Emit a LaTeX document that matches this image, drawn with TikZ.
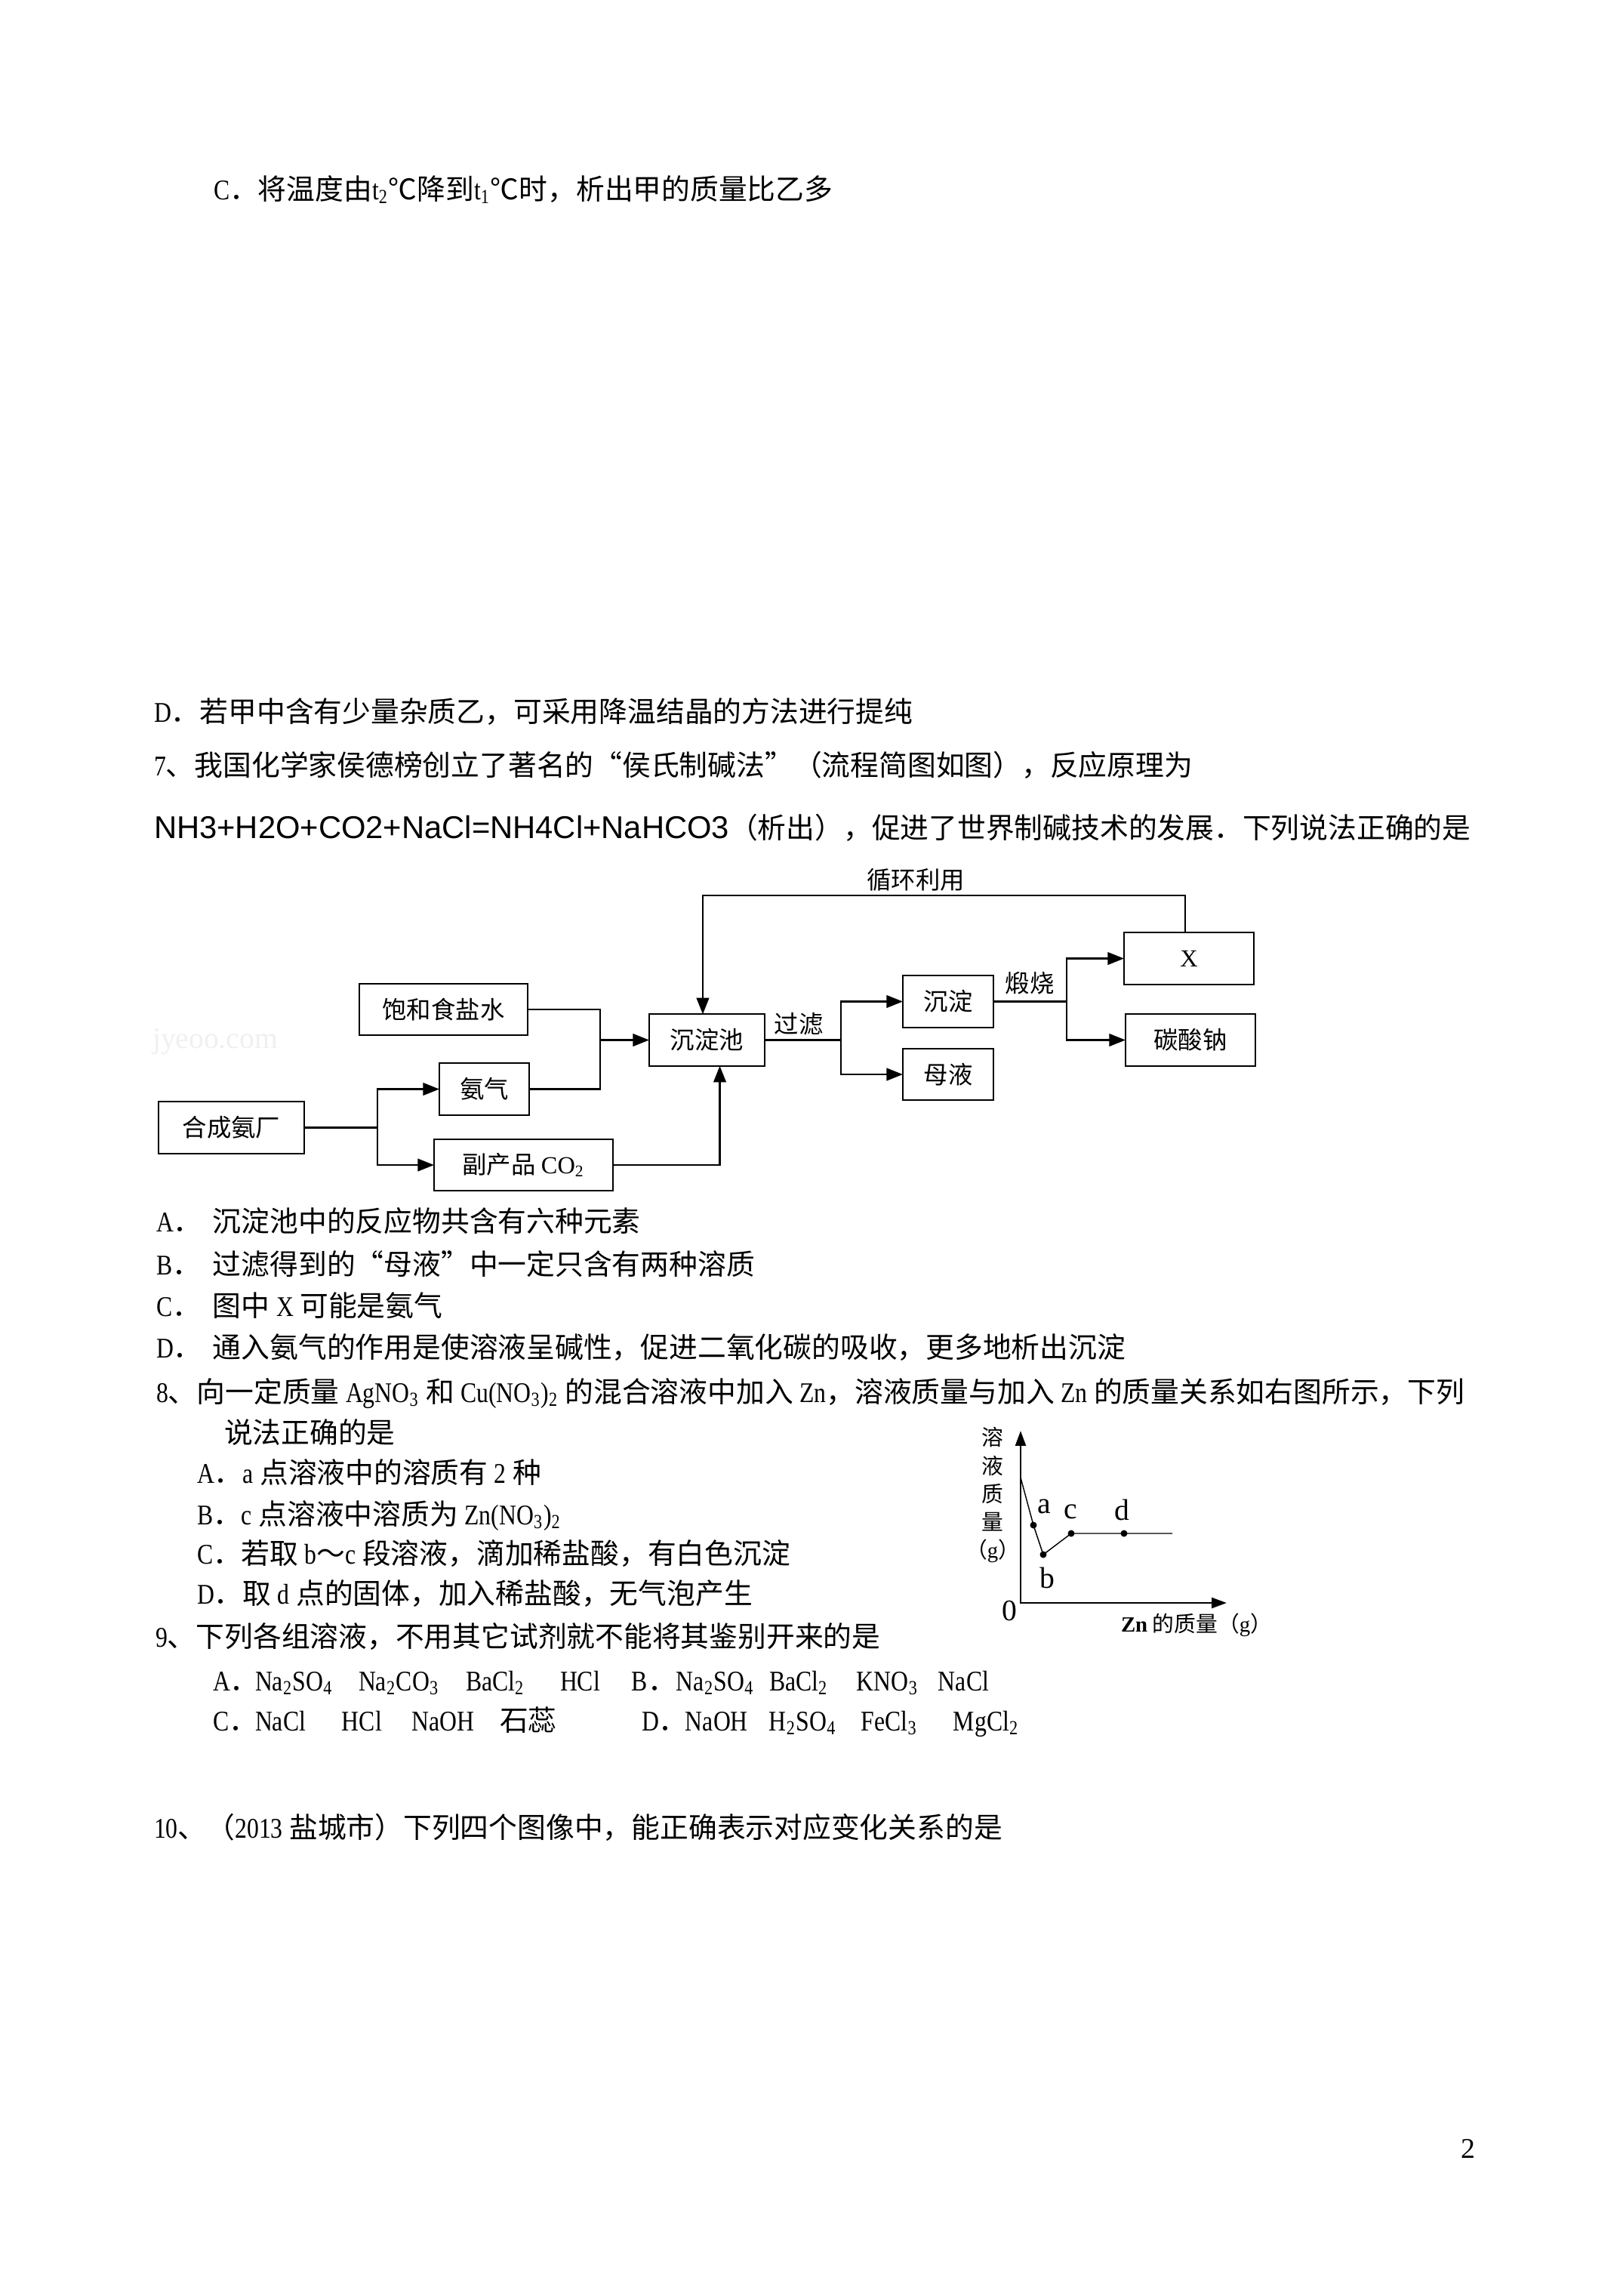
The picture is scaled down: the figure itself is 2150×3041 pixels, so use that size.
\documentclass[tikz,border=0pt]{standalone}
\usepackage{fontspec}
\setmainfont{Noto Sans CJK SC}
\newfontfamily\latserif{Liberation Serif}
\newfontfamily\bodylat{Liberation Serif}[FakeStretch=0.84]
\newfontfamily\latsans{Liberation Sans}
\usetikzlibrary{arrows.meta}
\newlength\pxu
\setlength\pxu{0.2779pt}
\newcommand\colbox[2]{\makebox[#1\pxu][l]{#2}}
\newcommand\lat[1]{{\bodylat #1}}

\begin{document}
\begin{tikzpicture}[x=1\pxu,y=-1\pxu,inner sep=0pt,outer sep=0pt,line width=0.65pt,
>={Triangle[length=6pt,width=4.6pt]},
txt/.style={anchor=base west,font=\fontsize{10.5}{13}\selectfont},
flowbox/.style={draw,rectangle,minimum height=68.5\pxu,font=\fontsize{9}{11}\selectfont},
flowlabel/.style={font=\fontsize{9}{11}\selectfont},
plotlabel/.style={font=\latserif\fontsize{11}{13}\selectfont}]
\fill[white] (0,0) rectangle (2150,3041);

% question text
\draw (283,264) node[txt] (partC) {\lat{C}．将温度由\lat{t\textsubscript{2}}℃降到\lat{t\textsubscript{1}}℃时，析出甲的质量比乙多};
\draw (204,956) node[txt] (partD) {\lat{D}．若甲中含有少量杂质乙，可采用降温结晶的方法进行提纯};
\draw (204,1027) node[txt] (qseven) {\lat{7}、我国化学家侯德榜创立了著名的“侯氏制碱法”（流程简图如图），反应原理为};
\draw (204,1110) node[txt] (formula) {{\latsans\fontsize{11.6}{13}\selectfont NH3+H2O+CO2+NaCl=NH4Cl+NaHCO3}（析出），促进了世界制碱技术的发展．下列说法正确的是};

% flow chart
\draw (306.5,1493.5) node[flowbox,minimum width=193\pxu] (plant) {合成氨厂};
\draw (641.5,1442.5) node[flowbox,minimum width=119\pxu] (ammonia) {氨气};
\draw (587.5,1337) node[flowbox,minimum width=223\pxu] (brine) {饱和食盐水};
\draw (693.5,1543) node[flowbox,minimum width=237\pxu] (byco) {副产品 {\latserif CO\textsubscript{2}}};
\draw (936.5,1377.5) node[flowbox,minimum width=153\pxu] (tank) {沉淀池};
\draw (1256,1326.5) node[flowbox,minimum width=120\pxu] (solid) {沉淀};
\draw (1256,1423) node[flowbox,minimum width=120\pxu] (liquor) {母液};
\draw (1575,1269.5) node[flowbox,minimum width=172\pxu] (xgas) {{\latserif X}};
\draw (1577,1377.5) node[flowbox,minimum width=172\pxu] (soda) {碳酸钠};
\draw (285,1380) node[font=\latserif\fontsize{11}{13}\selectfont,text=black!6] (mark) {jyeoo.com};
\coordinate (fork1) at (500,1493.5);
\coordinate (fork2) at (795,1377.5);
\coordinate (fork3) at (1114,1377.5);
\coordinate (fork4) at (1413,1326.5);
\draw (plant.0) -- (fork1);
\draw[->] (fork1) |- (ammonia.180);
\draw[->] (fork1) |- (byco.180);
\draw (brine.0) -| (fork2);
\draw (ammonia.0) -| (fork2);
\draw[->] (fork2) -- (tank.180);
\draw[->] (byco.0) -| ([xshift=17\pxu]tank.-90);
\draw[->] ([xshift=-5\pxu]xgas.90) -- ++(0,-49) -| ([xshift=-5.5\pxu]tank.90);
\draw (tank.0) -- (fork3);
\draw[->] (fork3) |- (solid.180);
\draw[->] (fork3) |- (liquor.180);
\draw (solid.0) -- (fork4);
\draw[->] (fork4) |- (xgas.180);
\draw[->] (fork4) |- (soda.180);
\draw (1213,1165) node[flowlabel] (recycle) {循环利用};
\draw (1058,1356) node[flowlabel] (filter) {过滤};
\draw (1364,1302) node[flowlabel] (calcine) {煅烧};

% options of question 7
\draw (207,1631) node[txt] (sevenA) {\colbox{75}{\lat{A}．}沉淀池中的反应物共含有六种元素};
\draw (207,1688) node[txt] (sevenB) {\colbox{75}{\lat{B}．}过滤得到的“母液”中一定只含有两种溶质};
\draw (207,1743) node[txt] (sevenC) {\colbox{75}{\lat{C}．}图中 \lat{X} 可能是氨气};
\draw (207,1798) node[txt] (sevenD) {\colbox{75}{\lat{D}．}通入氨气的作用是使溶液呈碱性，促进二氧化碳的吸收，更多地析出沉淀};

% question 8
\draw (207,1857) node[txt] (qeight) {\lat{8}、向一定质量 \lat{AgNO\textsubscript{3}} 和 \lat{Cu(NO\textsubscript{3})\textsubscript{2}} 的混合溶液中加入 \lat{Zn}，溶液质量与加入 \lat{Zn} 的质量关系如右图所示，下列};
\draw (297,1911) node[txt] (qeightb) {说法正确的是};
\draw (261,1964) node[txt] (eightA) {\lat{A}．\lat{a} 点溶液中的溶质有 \lat{2} 种};
\draw (261,2019) node[txt] (eightB) {\lat{B}．\lat{c} 点溶液中溶质为 \lat{Zn(NO\textsubscript{3})\textsubscript{2}}};
\draw (261,2071) node[txt] (eightC) {\lat{C}．若取 \lat{b}～\lat{c} 段溶液，滴加稀盐酸，有白色沉淀};
\draw (261,2124) node[txt] (eightD) {\lat{D}．取 \lat{d} 点的固体，加入稀盐酸，无气泡产生};

% plot
\coordinate (origin) at (1352,2123);
\coordinate (ytip) at (1352,1895);
\coordinate (xtip) at (1625,2123);
\coordinate (start) at (1352,1957);
\coordinate (pa) at (1369,2020);
\coordinate (pb) at (1382,2059);
\coordinate (pc) at (1419,2031);
\coordinate (pd) at (1489,2031);
\coordinate (pend) at (1553,2031);
\draw[<->,line width=0.8pt,>={Triangle[length=5.5pt,width=3.8pt]}] (ytip) -- (origin) -- (xtip);
\draw[line width=0.4pt] (start) -- (pa) -- (pb) -- (pc) -- (pd) -- (pend);
\foreach \p in {pa,pb,pc,pd}
  \fill (\p) circle[radius=1.25pt];
\draw (1383,1995) node[plotlabel] (la) {a};
\draw (1418,2002) node[plotlabel] (lc) {c};
\draw (1486,2000) node[plotlabel] (ld) {d};
\draw (1387,2090) node[plotlabel] (lb) {b};
\draw (1337,2133) node[plotlabel] (lzero) {0};
\draw (1315,1980) node[align=center,font=\fontsize{8}{10.3}\selectfont] (ylab) {溶\\液\\质\\量\\（{\latserif g}）};
\draw (1585,2152) node[font=\fontsize{8}{10}\selectfont] (xlab) {{\latserif\bfseries Zn} 的质量（{\latserif g}）};

% question 9
\draw (206,2181) node[txt] (qnine) {\lat{9}、下列各组溶液，不用其它试剂就不能将其鉴别开来的是};
\draw (282,2239) node[txt] (nineAB) {\colbox{56}{\lat{A}．}\colbox{137}{\lat{Na\textsubscript{2}SO\textsubscript{4}}}\colbox{142}{\lat{Na\textsubscript{2}CO\textsubscript{3}}}\colbox{125}{\lat{BaCl\textsubscript{2}}}\colbox{95}{\lat{HCl}}\colbox{59}{\lat{B}．}\colbox{123}{\lat{Na\textsubscript{2}SO\textsubscript{4}}}\colbox{116}{\lat{BaCl\textsubscript{2}}}\colbox{108}{\lat{KNO\textsubscript{3}}}\lat{NaCl}};
\draw (282,2292) node[txt] (nineCD) {\colbox{56}{\lat{C}．}\colbox{115}{\lat{NaCl}}\colbox{93}{\lat{HCl}}\colbox{116}{\lat{NaOH}}\colbox{188}{石蕊}\colbox{58}{\lat{D}．}\colbox{111}{\lat{NaOH}}\colbox{122}{\lat{H\textsubscript{2}SO\textsubscript{4}}}\colbox{122}{\lat{FeCl\textsubscript{3}}}\lat{MgCl\textsubscript{2}}};

% question 10
\draw (204,2434) node[txt] (qten) {\lat{10}、（\lat{2013} 盐城市）下列四个图像中，能正确表示对应变化关系的是};
\draw (1935,2858) node[txt,font=\latserif\fontsize{10.5}{13}\selectfont] (pagenum) {2};
\end{tikzpicture}
\end{document}
